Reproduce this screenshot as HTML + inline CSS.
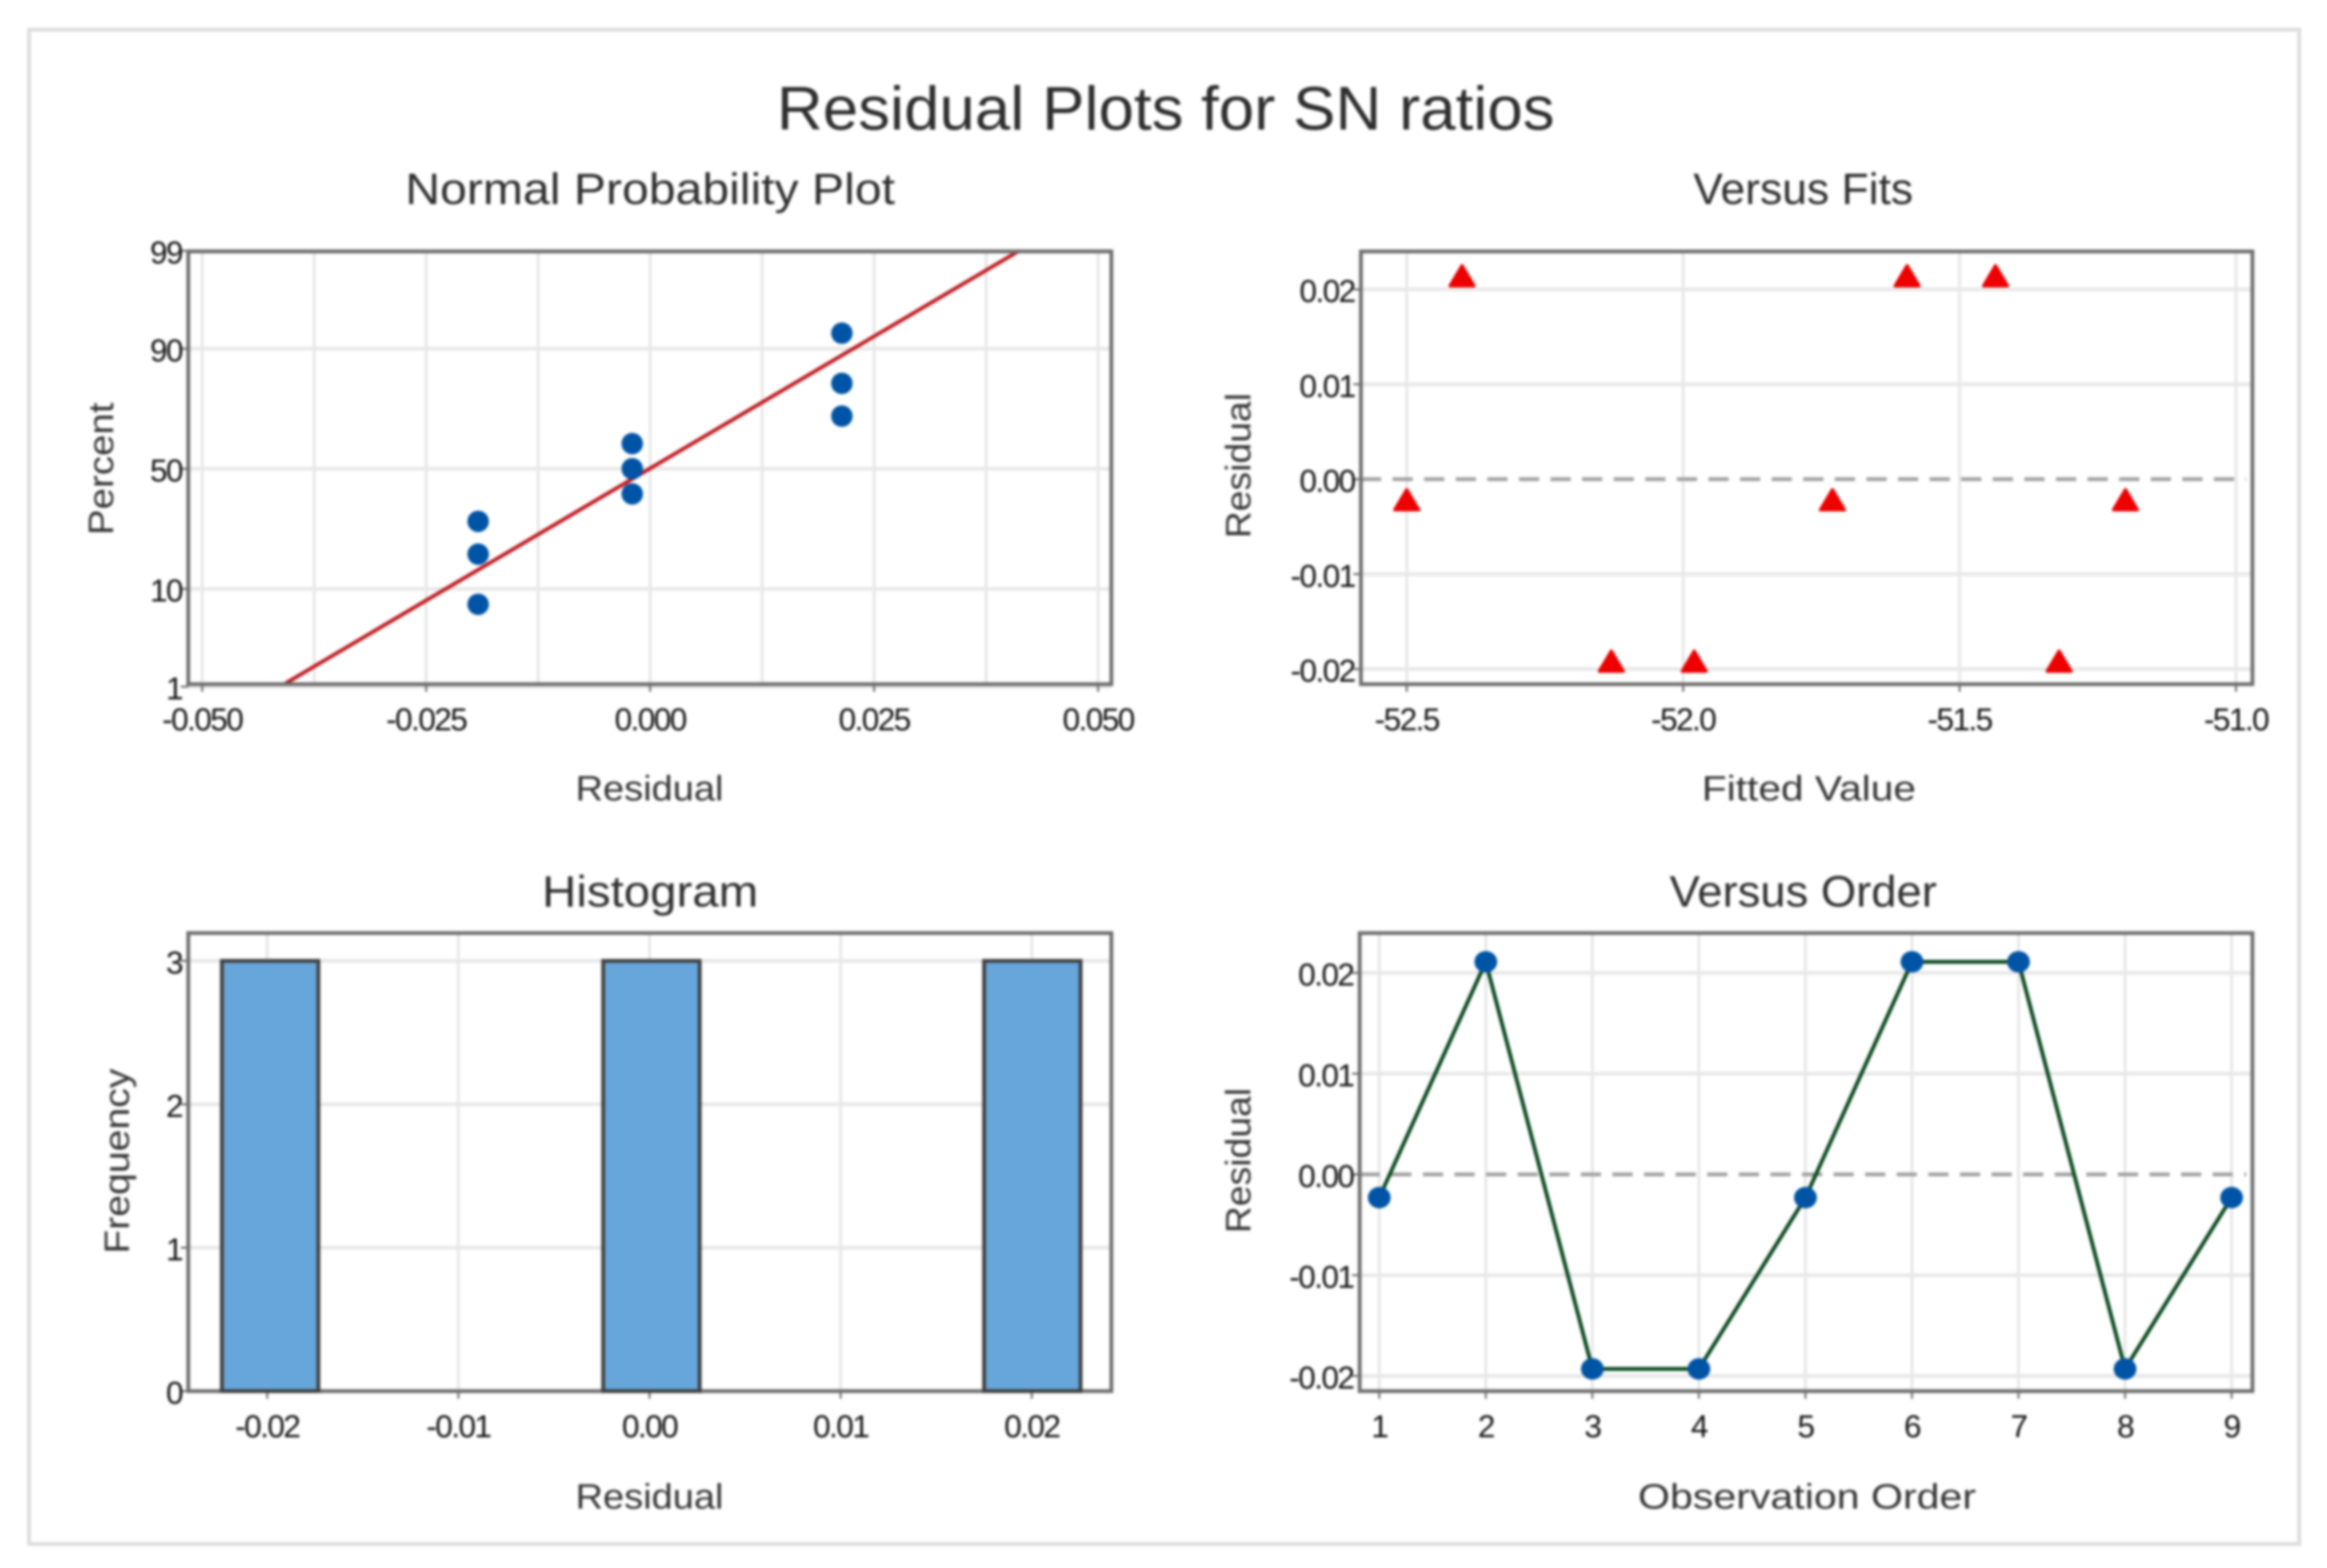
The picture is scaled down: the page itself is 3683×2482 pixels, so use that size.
<!DOCTYPE html>
<html lang="en">
<head>
<meta charset="utf-8">
<title>Residual Plots for SN ratios</title>
<style>
html,body{margin:0;padding:0;background:#fff;width:3683px;height:2482px;overflow:hidden}
svg{display:block;filter:blur(2px)}
text{font-family:"Liberation Sans",sans-serif;fill:#2e2e2e}
.title{font-size:97px;text-anchor:middle}
.sub{font-size:70px;text-anchor:middle}
.axt{font-size:56px;text-anchor:middle;fill:#333}
.tick{font-size:50px;letter-spacing:-2.5px;fill:#111}
</style>
</head>
<body>
<svg id="chart" xmlns="http://www.w3.org/2000/svg" width="3683" height="2482" viewBox="0 0 3683 2482">
  <rect x="0" y="0" width="3683" height="2482" fill="#fff"/>
  <rect x="46" y="47" width="3593" height="2397" fill="#fff" stroke="#dcdcdc" stroke-width="6"/>
  <text class="title" x="1845" y="205" textLength="1231" lengthAdjust="spacingAndGlyphs">Residual Plots for SN ratios</text>

  <text class="sub" x="1029" y="323" textLength="775" lengthAdjust="spacingAndGlyphs">Normal Probability Plot</text>
  <text class="sub" x="2854" y="323" textLength="348" lengthAdjust="spacingAndGlyphs">Versus Fits</text>
  <text class="sub" x="1029" y="1435" textLength="342" lengthAdjust="spacingAndGlyphs">Histogram</text>
  <text class="sub" x="2854" y="1435" textLength="423" lengthAdjust="spacingAndGlyphs">Versus Order</text>

  <text class="axt" x="1028" y="1267" textLength="234" lengthAdjust="spacingAndGlyphs">Residual</text>
  <text class="axt" x="2863" y="1267" textLength="339" lengthAdjust="spacingAndGlyphs">Fitted Value</text>
  <text class="axt" x="1028" y="2388" textLength="234" lengthAdjust="spacingAndGlyphs">Residual</text>
  <text class="axt" x="2860" y="2388" textLength="535" lengthAdjust="spacingAndGlyphs">Observation Order</text>

  <text class="axt" transform="translate(179 742) rotate(-90)" textLength="210" lengthAdjust="spacingAndGlyphs">Percent</text>
  <text class="axt" transform="translate(1979 737) rotate(-90)" textLength="230" lengthAdjust="spacingAndGlyphs">Residual</text>
  <text class="axt" transform="translate(204 1838) rotate(-90)" textLength="293" lengthAdjust="spacingAndGlyphs">Frequency</text>
  <text class="axt" transform="translate(1979 1837) rotate(-90)" textLength="230" lengthAdjust="spacingAndGlyphs">Residual</text>
</svg>
<script>
// ---- Normal probability plot data ----
const probResiduals = [-0.0192, -0.0192, -0.0192, -0.0020, -0.0020, -0.0020, 0.0214, 0.0214, 0.0214];
const probPercents = [7.4, 18.1, 28.7, 39.4, 50, 60.6, 71.3, 81.9, 92.6];
const fitLineResiduals = [-0.0407, 0.0412];
const fitLinePercents = [1.1, 99];
const probXTicks = [-0.05, -0.025, 0, 0.025, 0.05];
const probXMinorTicks = [-0.0375, -0.0125, 0.0125, 0.0375];
const probXTickLabels = ['-0.050', '-0.025', '0.000', '0.025', '0.050'];
const probYTicks = [1, 10, 50, 90, 99];
const probYTickLabels = ['1', '10', '50', '90', '99'];

// ---- Versus fits data ----
const fittedValues = [-52.50, -52.40, -52.13, -51.98, -51.73, -51.595, -51.435, -51.32, -51.20];
const fittedResiduals = [-0.0023, 0.0213, -0.0193, -0.0193, -0.0023, 0.0213, 0.0213, -0.0193, -0.0023];
const fitsXTicks = [-52.5, -52.0, -51.5, -51.0];
const fitsXTickLabels = ['-52.5', '-52.0', '-51.5', '-51.0'];
const residualTicks = [-0.02, -0.01, 0, 0.01, 0.02];
const residualTickLabels = ['-0.02', '-0.01', '0.00', '0.01', '0.02'];

// ---- Histogram data ----
const binCenters = [-0.01985, 0.0001, 0.02003];
const binWidth = 0.00505;
const binCounts = [3, 3, 3];
const histXTicks = [-0.02, -0.01, 0, 0.01, 0.02];
const histXTickLabels = ['-0.02', '-0.01', '0.00', '0.01', '0.02'];
const histYTicks = [0, 1, 2, 3];
const histYTickLabels = ['0', '1', '2', '3'];

// ---- Versus order data ----
const observationOrder = [1, 2, 3, 4, 5, 6, 7, 8, 9];
const orderResiduals = [-0.0023, 0.0211, -0.0193, -0.0193, -0.0023, 0.0211, 0.0211, -0.0193, -0.0023];
const orderXTickLabels = ['1', '2', '3', '4', '5', '6', '7', '8', '9'];

const NS = 'http://www.w3.org/2000/svg';
const svg = document.getElementById('chart');

function make(tag, attrs) {
  const el = document.createElementNS(NS, tag);
  for (const k in attrs) el.setAttribute(k, attrs[k]);
  svg.appendChild(el);
  return el;
}
function linear(d0, d1, r0, r1) {
  return function (v) { return r0 + (v - d0) * (r1 - r0) / (d1 - d0); };
}
function normalQuantile(p) {
  const q = p < 0.5 ? p : 1 - p;
  const t = Math.sqrt(-2 * Math.log(q));
  const z = t - (2.515517 + 0.802853 * t + 0.010328 * t * t) /
    (1 + 1.432788 * t + 0.189269 * t * t + 0.001308 * t * t * t);
  return p < 0.5 ? -z : z;
}

function drawVGrid(ticks, sx, box, prefix, width) {
  ticks.forEach(function (t) {
    const line = make('line', { x1: sx(t), x2: sx(t), y1: box.top, y2: box.bottom, stroke: '#e4e4e4', 'stroke-width': width });
    
    
  });
}
function drawHGrid(ticks, sy, box, prefix) {
  ticks.forEach(function (t) {
    const line = make('line', { x1: box.left, x2: box.right, y1: sy(t), y2: sy(t), stroke: '#e8e8e8', 'stroke-width': 6 });
    
    
  });
}
function drawFrame(box, prefix) {
  const frame = make('rect', { x: box.left, y: box.top, width: box.right - box.left, height: box.bottom - box.top, fill: 'none', stroke: '#6e6e6e', 'stroke-width': 6 });
  
  
}
function drawXAxis(ticks, labels, sx, box, prefix) {
  ticks.forEach(function (t, i) {
    const mark = make('line', { x1: sx(t), x2: sx(t), y1: box.bottom, y2: box.bottom + 12, stroke: '#666', 'stroke-width': 3 });
    
    
    const label = make('text', { x: sx(t), y: box.bottom + 73, 'text-anchor': 'middle', class: 'tick' });
    
    
    label.textContent = labels[i];
  });
}
function drawYAxis(ticks, labels, sy, box, prefix) {
  ticks.forEach(function (t, i) {
    const mark = make('line', { x1: box.left - 12, x2: box.left, y1: sy(t), y2: sy(t), stroke: '#666', 'stroke-width': 3 });
    
    
    const label = make('text', { x: box.left - 10, y: sy(t) + 20, 'text-anchor': 'end', class: 'tick' });
    
    
    label.textContent = labels[i];
  });
}
function drawZeroLine(sy, box, prefix) {
  const zero = make('line', { x1: box.left, x2: box.right - 10, y1: sy(0), y2: sy(0), stroke: '#a0a0a0', 'stroke-width': 6, 'stroke-dasharray': '32 18' });
  
  
}

// ---- Panel 1: normal probability plot ----
(function () {
  const box = { left: 298, right: 1759, top: 398, bottom: 1083 };
  const sx = linear(0, 0.025, 1029, 1383.5);
  const zScale = linear(0, 2.3263, 742, 397);
  const sy = function (p) { return zScale(normalQuantile(p / 100)); };
  drawVGrid(probXTicks, sx, box, 'normal', 4);
  drawVGrid(probXMinorTicks, sx, box, 'normal-minor', 4);
  drawHGrid(probYTicks, sy, box, 'normal');
  drawXAxis(probXTicks, probXTickLabels, sx, box, 'normal');
  drawYAxis(probYTicks, probYTickLabels, sy, box, 'normal');
  const fit = make('line', {
    x1: sx(fitLineResiduals[0]), y1: sy(fitLinePercents[0]),
    x2: sx(fitLineResiduals[1]), y2: sy(fitLinePercents[1]),
    stroke: '#bf1a20', 'stroke-width': 6
  });
  
  
  drawFrame(box, 'normal');
  probResiduals.forEach(function (r, i) {
    const dot = make('ellipse', { cx: sx(r), cy: sy(probPercents[i]), rx: 17, ry: 17, fill: '#0054a6' });
    
    
  });
})();

// ---- Panel 2: versus fits ----
(function () {
  const box = { left: 2154, right: 3565, top: 398, bottom: 1083 };
  const sx = linear(-52.5, -51.0, 2226.5, 3539);
  const sy = linear(0, 0.02, 758.5, 458);
  drawVGrid(fitsXTicks, sx, box, 'fits', 4);
  drawHGrid(residualTicks.filter(function (t) { return t !== 0; }), sy, box, 'fits');
  drawZeroLine(sy, box, 'fits');
  drawXAxis(fitsXTicks, fitsXTickLabels, sx, box, 'fits');
  drawYAxis(residualTicks, residualTickLabels, sy, box, 'fits');
  drawFrame(box, 'fits');
  fittedValues.forEach(function (v, i) {
    const x = sx(v), y = sy(fittedResiduals[i]);
    const tri = make('polygon', {
      points: (x - 19) + ',' + (y + 14) + ' ' + (x + 19) + ',' + (y + 14) + ' ' + x + ',' + (y - 18),
      fill: '#ee0000', stroke: '#ee0000', 'stroke-width': 5, 'stroke-linejoin': 'round'
    });
    
    
  });
})();

// ---- Panel 3: histogram ----
(function () {
  const box = { left: 298, right: 1759, top: 1477, bottom: 2202 };
  const sx = linear(0, 0.02, 1028, 1633);
  const sy = linear(0, 3, 2202, 1521);
  drawVGrid(histXTicks, sx, box, 'histogram', 4);
  drawHGrid(histYTicks.filter(function (t) { return t !== 0; }), sy, box, 'histogram');
  drawXAxis(histXTicks, histXTickLabels, sx, box, 'histogram');
  drawYAxis(histYTicks, histYTickLabels, sy, box, 'histogram');
  drawFrame(box, 'histogram');
  binCenters.forEach(function (c, i) {
    const x0 = sx(c - binWidth / 2), x1 = sx(c + binWidth / 2);
    const bar = make('rect', {
      x: x0, y: sy(binCounts[i]), width: x1 - x0, height: sy(0) - sy(binCounts[i]),
      fill: '#66a6da', stroke: '#3f3f3f', 'stroke-width': 6
    });
    
    
  });
})();

// ---- Panel 4: versus order ----
(function () {
  const box = { left: 2152, right: 3565, top: 1477, bottom: 2202 };
  const sx = linear(1, 9, 2183, 3532);
  const sy = linear(0, 0.02, 1859, 1540);
  drawVGrid(observationOrder, sx, box, 'order', 4);
  drawHGrid(residualTicks.filter(function (t) { return t !== 0; }), sy, box, 'order');
  drawZeroLine(sy, box, 'order');
  drawXAxis(observationOrder, orderXTickLabels, sx, box, 'order');
  drawYAxis(residualTicks, residualTickLabels, sy, box, 'order');
  drawFrame(box, 'order');
  const pts = observationOrder.map(function (o, i) { return sx(o) + ',' + sy(orderResiduals[i]); }).join(' ');
  const path = make('polyline', { points: pts, fill: 'none', stroke: '#06451a', 'stroke-width': 6 });
  
  
  observationOrder.forEach(function (o, i) {
    const dot = make('ellipse', { cx: sx(o), cy: sy(orderResiduals[i]), rx: 18, ry: 17, fill: '#0054a6' });
    
    
  });
})();
</script>
</body>
</html>
